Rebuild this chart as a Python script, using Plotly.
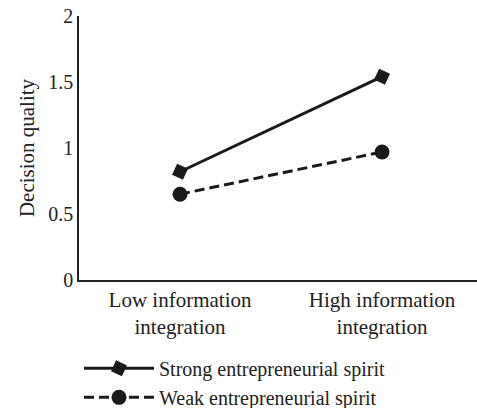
import plotly.graph_objects as go

categories = ["Low information<br>integration", "High information<br>integration"]
strong = [0.82, 1.54]
weak = [0.65, 0.97]
series_names = ["Strong entrepreneurial spirit", "Weak entrepreneurial spirit"]
y_ticks = [0, 0.5, 1, 1.5, 2]
y_tick_labels = ["0", "0.5", "1", "1.5", "2"]

FONT = "Liberation Serif"
FS = 21

fig = go.Figure()
fig.add_trace(go.Scatter(
    x=[0, 1], y=strong, name=series_names[0], mode="lines+markers",
    line=dict(color="#1a1a1a", width=3),
    marker=dict(symbol="square", size=12, color="#1a1a1a", angle=25),
))
fig.add_trace(go.Scatter(
    x=[0, 1], y=weak, name=series_names[1], mode="lines+markers",
    line=dict(color="#1a1a1a", width=3, dash="10px,5px"),
    marker=dict(symbol="circle", size=15, color="#1a1a1a"),
))

fig.update_layout(
    width=477, height=408,
    margin=dict(l=79, r=0, t=16, b=128),
    paper_bgcolor="white", plot_bgcolor="white",
    font=dict(family=FONT, size=FS, color="#222"),
    showlegend=True,
    legend=dict(
        xref="paper", yref="container",
        x=0.0, y=0.145, xanchor="left", yanchor="top",
        font=dict(family=FONT, size=20, color="#222"),
        tracegroupgap=0, itemwidth=70,
        bgcolor="rgba(0,0,0,0)", borderwidth=0,
    ),
    xaxis=dict(
        range=[-0.5, 1.47], tickvals=[0, 1], ticktext=categories,
        showline=True, linecolor="#222", linewidth=1.5,
        showgrid=False, zeroline=False, ticks="", automargin=False,
        tickfont=dict(family=FONT, size=FS, color="#222"),
    ),
    yaxis=dict(
        range=[0, 2], tickvals=y_ticks, ticktext=y_tick_labels,
        showline=True, linecolor="#222", linewidth=1.5,
        showgrid=False, zeroline=False, ticks="", automargin=False,
        tickfont=dict(family=FONT, size=20, color="#222"),
        title=dict(text="Decision quality", font=dict(family=FONT, size=FS, color="#222"), standoff=8),
    ),
)

fig.write_html("out.html", config={"displayModeBar": False},
               post_script="document.body.style.margin='0';")
